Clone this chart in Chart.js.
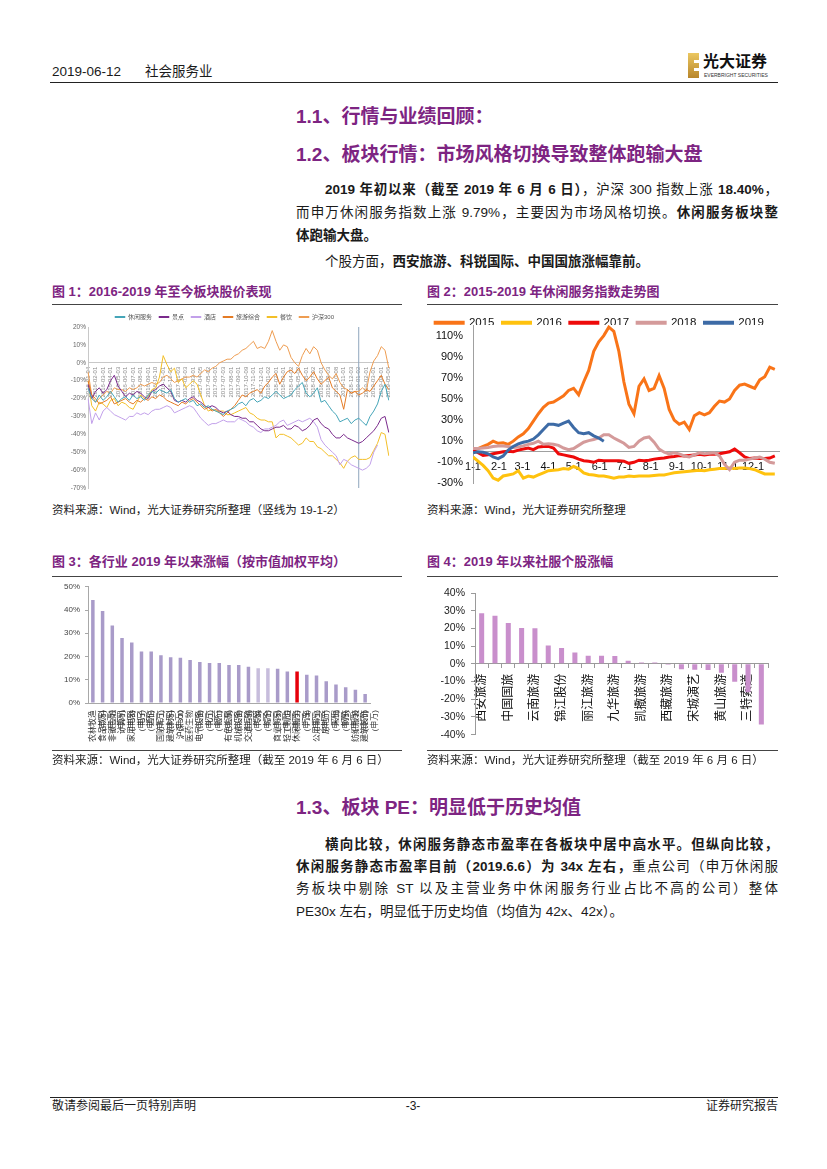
<!DOCTYPE html>
<html lang="zh-CN">
<head>
<meta charset="utf-8">
<title>社会服务业</title>
<script src="https://cdn.jsdelivr.net/npm/chart.js@4.4.1/dist/chart.umd.min.js"></script>
<style>
  html, body { margin: 0; padding: 0; background: #fff; }
  body { width: 827px; height: 1169px; position: relative; overflow: hidden;
         font-family: "Liberation Sans", "Noto Sans CJK SC", sans-serif; color: #1a1a1a; }
  .t { position: absolute; white-space: nowrap; line-height: 20px; }
  .j { text-align: justify; text-align-last: justify; }
  .p { font-size: 13.5px; }
  .h { font-size: 19px; font-weight: bold; color: #7d2482; line-height: 26px; }
  .fig { font-size: 13px; font-weight: bold; color: #7d2482; }
  .src { font-size: 11.5px; color: #222; }
  .rule { position: absolute; height: 0; border-top: 1.5px solid #444; }
  canvas { position: absolute; }
</style>
</head>
<body>

<div class="t" style="left:52px;top:62px;font-size:13.5px;">2019-06-12<span style="margin-left:24px">社会服务业</span></div>
<div style="position:absolute;left:688px;top:53px;width:11px;height:25px;background:linear-gradient(#ebc760,#b8862b)"></div>
<div style="position:absolute;left:694px;top:60px;width:5px;height:3px;background:#fff"></div>
<div style="position:absolute;left:694px;top:68px;width:5px;height:3px;background:#fff"></div>
<div class="t" style="left:703px;top:53px;font-size:16px;font-weight:bold;line-height:18px;color:#111">光大证券</div>
<div class="t" style="left:704px;top:72px;font-size:5px;line-height:6px;color:#333">EVERBRIGHT SECURITIES</div>
<div class="rule" style="left:50px;top:82px;width:728px;border-top:1.5px solid #222"></div>

<div class="t h" style="left:296px;top:104px">1.1、行情与业绩回顾：</div>
<div class="t h" style="left:296px;top:142px">1.2、板块行情：市场风格切换导致整体跑输大盘</div>

<div class="t p j" style="left:325px;top:180px;width:453px"><b>2019 年初以来（截至 2019 年 6 月 6 日）</b>，沪深 300 指数上涨 <b>18.40%</b>，</div>
<div class="t p j" style="left:296px;top:203px;width:482px">而申万休闲服务指数上涨 9.79%，主要因为市场风格切换。<b>休闲服务板块整</b></div>
<div class="t p" style="left:296px;top:226px"><b>体跑输大盘。</b></div>
<div class="t p" style="left:325px;top:252px">个股方面，<b>西安旅游、科锐国际、中国国旅涨幅靠前。</b></div>

<div class="t fig" style="left:52px;top:282px">图 1：2016-2019 年至今板块股价表现</div>
<div class="t fig" style="left:427px;top:282px">图 2：2015-2019 年休闲服务指数走势图</div>
<div class="rule" style="left:52px;top:304px;width:350px"></div>
<div class="rule" style="left:427px;top:304px;width:351px"></div>

<canvas id="c1" width="340" height="190" style="left:60px;top:305px"></canvas>
<canvas id="c2" width="365" height="195" style="left:420px;top:305px"></canvas>

<div class="t src" style="left:52px;top:500px">资料来源：Wind，光大证券研究所整理（竖线为 19-1-2）</div>
<div class="t src" style="left:427px;top:500px">资料来源：Wind，光大证券研究所整理</div>

<div class="t fig" style="left:52px;top:552px">图 3：各行业 2019 年以来涨幅（按市值加权平均）</div>
<div class="t fig" style="left:427px;top:552px">图 4：2019 年以来社服个股涨幅</div>
<div class="rule" style="left:52px;top:576px;width:350px"></div>
<div class="rule" style="left:427px;top:576px;width:351px"></div>

<canvas id="c3" width="370" height="177" style="left:40px;top:577px"></canvas>
<canvas id="c4" width="365" height="170" style="left:420px;top:577px"></canvas>

<div class="rule" style="left:52px;top:750px;width:350px;border-top-width:1px"></div>
<div class="rule" style="left:427px;top:750px;width:351px;border-top-width:1px"></div>
<div class="t src" style="left:52px;top:750px">资料来源：Wind，光大证券研究所整理（截至 2019 年 6 月 6 日）</div>
<div class="t src" style="left:427px;top:750px">资料来源：Wind，光大证券研究所整理（截至 2019 年 6 月 6 日）</div>

<div class="t h" style="left:296px;top:795px">1.3、板块 PE：明显低于历史均值</div>
<div class="t p j" style="left:325px;top:835px;width:453px"><b>横向比较，休闲服务静态市盈率在各板块中居中高水平。但纵向比较，</b></div>
<div class="t p j" style="left:296px;top:857px;width:482px"><b>休闲服务静态市盈率目前（2019.6.6）为 34x 左右，</b>重点公司（申万休闲服</div>
<div class="t p j" style="left:296px;top:879px;width:482px">务板块中剔除 ST 以及主营业务中休闲服务行业占比不高的公司）整体</div>
<div class="t p" style="left:296px;top:902px">PE30x 左右，明显低于历史均值（均值为 42x、42x）。</div>

<div class="rule" style="left:50px;top:1097px;width:728px;border-top:1.5px solid #222"></div>
<div class="t" style="left:52px;top:1096px;font-size:12px">敬请参阅最后一页特别声明</div>
<div class="t" style="left:400px;top:1096px;width:26px;text-align:center;font-size:12px">-3-</div>
<div class="t" style="left:700px;top:1096px;width:78px;text-align:right;font-size:12px">证券研究报告</div>

<script>
Chart.defaults.font.family = '"Liberation Sans", "Noto Sans CJK SC", sans-serif';
Chart.defaults.animation = false;
Chart.defaults.plugins.tooltip.enabled = false;

// legend keeps drawing normally but only reserves h px above the plot
function legendHeight(h) {
  return {
    id: 'legendHeight',
    beforeInit(chart) {
      const fit = chart.legend.fit;
      chart.legend.fit = function () { fit.call(this); this.height = h; };
    }
  };
}

// === 图1: 2016-2019 sector performance (semi-monthly readings) ===
const months1 = [
  '2016-01-04','2016-02-01','2016-03-01','2016-04-01','2016-05-03','2016-06-01','2016-07-01','2016-08-01','2016-09-01','2016-10-10','2016-11-01','2016-12-01',
  '2017-01-03','2017-02-03','2017-03-01','2017-04-05','2017-05-02','2017-06-01','2017-07-03','2017-08-01','2017-09-01','2017-10-09','2017-11-01','2017-12-01',
  '2018-01-02','2018-02-01','2018-03-01','2018-04-02','2018-05-02','2018-06-01','2018-07-02','2018-08-01','2018-09-03','2018-10-08','2018-11-01','2018-12-03',
  '2019-01-02','2019-02-01','2019-03-01','2019-04-01','2019-05-06'
];
const leisure = [
  -14,-20,-22,-18,-21,-19,-16,-19,-22,-20,
  -19,-21,-18,-20,-19,-21,-18,-16,-17,-15,
  -16,-17,-15,-20,-22,-21,-20,-22,-21,-24,
  -23,-25,-24,-26,-27,-28,-29,-27,-26,-25,
  -23,-22,-24,-21,-20,-22,-21,-19,-20,-18,
  -16,-18,-20,-19,-18,-15,-13,-11,-17,-19,
  -17,-14,-22,-21,-24,-27,-29,-33,-32,-31,
  -34,-32,-31,-33,-35,-30,-27,-23,-16,-12,
  -21
];
const scenic = [
  -12,-20,-16,-14,-17,-15,-10,-7,-13,-16,
  -19,-17,-18,-16,-17,-19,-20,-16,-15,-13,
  -12,-14,-16,-21,-22,-21,-22,-20,-19,-21,
  -22,-24,-25,-24,-25,-27,-28,-27,-29,-30,
  -30,-31,-31,-33,-33,-35,-37,-38,-38,-37,
  -36,-36,-35,-37,-37,-35,-36,-38,-37,-35,
  -32,-31,-34,-36,-37,-40,-42,-42,-40,-42,
  -43,-44,-45,-44,-42,-40,-38,-35,-31,-30,
  -39
];
const hotel = [
  -20,-34,-28,-32,-27,-25,-27,-29,-30,-31,
  -32,-30,-30,-28,-29,-28,-29,-27,-26,-26,
  -25,-24,-25,-28,-27,-26,-25,-24,-25,-28,
  -31,-33,-35,-34,-34,-33,-32,-33,-33,-33,
  -31,-32,-33,-35,-36,-38,-39,-37,-37,-36,
  -35,-33,-32,-35,-34,-33,-32,-33,-32,-31,
  -33,-36,-43,-46,-48,-50,-52,-57,-54,-55,
  -57,-58,-59,-60,-59,-57,-50,-46,null,null,
  null
];
const tourism = [
  -10,-18,-20,-23,-22,-21,-19,-23,-22,-21,
  -20,-22,-23,-21,-22,-20,-21,-19,-20,-18,
  -19,-21,-22,-23,-24,-22,-23,-21,-20,-22,
  -24,-26,-25,-27,-26,-28,-30,-28,-26,-24,
  -21,-18,-19,-17,-16,-15,-17,-13,-11,-8,
  -6,-12,-8,-5,-4,-6,-3,-7,-10,-8,
  -5,-9,-12,-10,-8,-14,-16,-18,-26,-15,
  -17,-16,-18,-17,-15,-16,-13,-10,-7,-12,
  -15
];
const catering = [
  -10,-24,-27,-22,-23,-25,-21,-20,-24,-22,
  -23,-25,-26,-22,-18,-20,-19,-15,-14,-8,
  4,-1,-5,-3,-11,-9,-14,-12,-10,-12,
  -18,-24,-27,-26,-27,-27,-27,-29,-29,-28,
  -27,-26,-25,-28,-29,-31,-32,-32,-33,-33,
  -42,-40,-40,-41,-42,-44,-46,-45,-42,-44,
  -44,-47,-48,-50,-52,-52,-54,-56,-59,-55,
  -53,-52,-54,-54,-54,-53,-49,-45,-39,-40,
  -52
];
const hs300 = [
  -5,-18,-22,-20,-18,-16,-17,-14,-15,-15,
  -16,-14,-15,-14,-12,-13,-12,-11,-12,-11,
  -8,-7,-9,-11,-10,-9,-8,-8,-7,-8,
  -6,-4,-5,-3,-2,0,1,2,2,4,
  5,7,8,10,12,8,9,8,12,18,
  12,7,10,9,3,0,-2,4,8,5,
  9,7,0,-4,-7,-9,-6,-11,-14,-15,
  -17,-16,-16,-14,-16,-5,1,4,9,7,
  -3
];
const markDate = '2019-01-02';

const labels1 = [];
months1.forEach((m, k) => { labels1.push(m); if (k < months1.length - 1) labels1.push(''); });

const series1 = [
  { label: '休闲服务', data: leisure, color: '#45a5b8' },
  { label: '景点', data: scenic, color: '#7a2a8c' },
  { label: '酒店', data: hotel, color: '#c2a0ea' },
  { label: '旅游综合', data: tourism, color: '#e47b25' },
  { label: '餐饮', data: catering, color: '#f3bf28' },
  { label: '沪深300', data: hs300, color: '#ee9d52' }
];

const markLine = {
  id: 'markLine',
  beforeDatasetsDraw(chart) {
    const x = chart.scales.x.getPixelForValue(labels1.indexOf(markDate));
    const { top, bottom } = chart.chartArea;
    const ctx = chart.ctx;
    ctx.save();
    ctx.strokeStyle = '#8fa6bd';
    ctx.lineWidth = 1;
    ctx.beginPath();
    ctx.moveTo(x, top);
    ctx.lineTo(x, bottom);
    ctx.stroke();
    ctx.restore();
  }
};

new Chart(document.getElementById('c1'), {
  type: 'line',
  data: {
    labels: labels1,
    datasets: series1.map(s => ({
      label: s.label, data: s.data, borderColor: s.color, backgroundColor: s.color,
      borderWidth: 1, pointRadius: 0
    }))
  },
  options: {
    responsive: false,
    layout: { padding: { top: 2, right: 11, bottom: 7, left: 0 } },
    plugins: {
      legend: { labels: { boxWidth: 10, boxHeight: 1, padding: 7, font: { size: 6 }, color: '#555' } }
    },
    scales: {
      x: {
        position: { y: 0 },
        grid: { display: false, drawTicks: false },
        border: { color: '#c8c8c8' },
        ticks: { autoSkip: false, minRotation: 90, maxRotation: 90, padding: 4, font: { size: 6 }, color: '#8a8a8a' }
      },
      y: {
        min: -70, max: 20,
        afterFit: s => { s.width = 28; },
        grid: { display: false, drawTicks: false },
        border: { color: '#c8c8c8' },
        ticks: { stepSize: 10, padding: 2, font: { size: 6.5 }, color: '#666', callback: v => v + '%' }
      }
    }
  },
  plugins: [legendHeight(20), markLine]
});

// === 图2: 休闲服务指数 by year (readings every 6 days from 1-1) ===
const monthDays = [0, 31, 59, 90, 120, 151, 181, 212, 243, 273, 304, 334];
const monthNames = ['1-1','2-1','3-1','4-1','5-1','6-1','7-1','8-1','9-1','10-1','11-1','12-1'];
const yTicks2 = [-30, -10, 10, 30, 50, 70, 90, 110];
const sampleStep = 6;
const y2015 = [2,3,5,7,10,8,8.5,7,10,14, 17,22,29,36,42,46,47,50,53,58, 60,54,66,77,95,104,110,118,114,95,
  66,45,36,62,69,58,60,72,60,40, 30,26,28,21,34,37,35,37,43,48, 47,50,58,63,64,62,60,68,71,80, 78];
const y2016 = [-5,-9,-13,-18,-25,-27,-23,-22,-21,-18, -25,-23,-24,-22,-20,-18,-17.5,-17,-16,-16.5,
  -14,-16,-20,-21.5,-22,-23,-23,-24,-25,-24, -24,-23,-23.5,-23,-23,-23,-22.5,-22,-22,-21,
  -20,-19.5,-19,-18.5,-18,-17.5,-18,-17,-16.5,-16, -16,-15.5,-16,-15.5,-15.5,-16,-17,-19,-21,-21, -21];
const y2017 = [1.5,-1,-3.5,-3,-2,-1,0,0.5,0,1.5, 2.5,3.5,2,4.5,5,5,3.5,-2,-3,-4,
  -5,-7,-8.5,-9,-10,-8,-8.5,-8.5,-8.5,-8.5, -9,-11,-10,-8,-8.5,-8,-7,-6.5,-6,-5,
  -4.5,-3.5,-4,-3.5,-3,-2.5,-3,-2.5,-2.5,-2, -1,0,2.5,-1,-5,-6.5,-6,-6.5,-6.5,-6, -4];
const y2018 = [3,3,3.5,4,5,5.5,5.5,5,4,4.5, 5.5,7,8,10,7,7.5,7,6,3.5,2,
  3,6,9,10.5,11.5,13,16,16,13,10.5, 8,4,5,10,13,14,9,2.5,-0.5,-2,
  -1,-2,-4,-5,-3,-1,-2,-1.5,-1,-4, -12,-17,-10,-8,-8,-7,-6,-5,-7,-10, -11];
const y2019 = [-1,0,-0.5,-2,-5,-6.5,-4,1.5,5,7.5, 9,10,12,16,21,26,26,25,27,29, 23,18,17,18,15,13,10];

const pts = arr => arr.map((v, k) => ({ x: k * sampleStep, y: v }));

// reversed so that 2019 is drawn on top; legend is flipped back
const years2 = [
  { label: '2019', data: y2019, color: '#3d6ba6' },
  { label: '2018', data: y2018, color: '#d49a9a' },
  { label: '2017', data: y2017, color: '#ee0a0a' },
  { label: '2016', data: y2016, color: '#ffc20e' },
  { label: '2015', data: y2015, color: '#f97418' }
];

new Chart(document.getElementById('c2'), {
  type: 'line',
  data: {
    datasets: years2.map(s => ({
      label: s.label, data: pts(s.data), borderColor: s.color, backgroundColor: s.color,
      borderWidth: 3, pointRadius: 0
    }))
  },
  options: {
    responsive: false,
    layout: { padding: { top: 4, right: 6, bottom: 9, left: 0 } },
    plugins: {
      legend: { reverse: true, labels: { boxWidth: 28, boxHeight: 1, padding: 8, font: { size: 11.5 }, color: '#111' } }
    },
    scales: {
      x: {
        type: 'linear', min: 0, max: 365,
        position: { y: 0 },
        afterBuildTicks: s => { s.ticks = monthDays.map(v => ({ value: v })); },
        grid: { display: false, drawTicks: false },
        border: { color: '#a0a0a0' },
        ticks: { padding: 9, autoSkip: false, maxRotation: 0, font: { size: 11 }, color: '#111',
                 callback: v => monthNames[monthDays.indexOf(v)] }
      },
      y: {
        min: -30, max: 120,
        afterBuildTicks: s => { s.ticks = yTicks2.map(v => ({ value: v })); },
        afterFit: s => { s.width = 53; },
        grid: { display: false, drawTicks: false },
        border: { color: '#a0a0a0' },
        ticks: { padding: 10, font: { size: 11 }, color: '#111', callback: v => v + '%' }
      }
    }
  },
  plugins: [legendHeight(16)]
});

// === 图3: 各行业 2019 年以来涨幅 ===
const names3 = ['农林牧渔','食品饮料','非银金融','计算机','家用电器','电子','通信','国防军工','建筑材料','沪深300',
  '医药生物','电气设备','化工','银行','有色金属','机械设备','交通运输','传媒','综合','商业贸易',
  '轻工制造','休闲服务','汽车','公用事业','房地产','采掘','钢铁','纺织服装','建筑装饰'];
const values3 = [44.3,39.6,33.3,28.0,26.0,22.2,22.2,20.6,19.7,19.5,
  18.5,17.6,17.2,17.2,16.4,16.4,15.6,15.0,15.0,14.7,
  13.6,13.6,12.2,11.8,9.4,8.0,6.8,5.7,3.9];
const highlight3 = '休闲服务';
const pale3 = ['传媒', '综合'];

new Chart(document.getElementById('c3'), {
  type: 'bar',
  data: {
    labels: names3.map(n => n === '沪深300' ? n : [n, '(申万)']),
    datasets: [{
      data: values3,
      backgroundColor: names3.map(n => n === highlight3 ? '#e6000b' : (pale3.includes(n) ? '#c7bddc' : '#a99bc9')),
      barPercentage: 0.4, categoryPercentage: 0.9
    }]
  },
  options: {
    responsive: false,
    layout: { padding: { top: 5, right: 40, bottom: 4, left: 0 } },
    plugins: { legend: { display: false } },
    scales: {
      x: {
        afterFit: s => { s.height = 47; },
        grid: { display: false, drawTicks: false },
        border: { color: '#a8a8a8' },
        ticks: { autoSkip: false, minRotation: 90, maxRotation: 90, padding: 7, font: { size: 8 }, color: '#333' }
      },
      y: {
        min: 0, max: 50,
        afterFit: s => { s.width = 48; },
        grid: { drawOnChartArea: false, tickLength: 3, color: '#a8a8a8' },
        border: { color: '#a8a8a8' },
        ticks: { stepSize: 5, padding: 5, font: { size: 8 }, color: '#444', callback: v => v + '%' }
      }
    }
  }
});

// === 图4: 社服个股涨幅 ===
const names4 = ['西安旅游','科锐国际','中国国旅','首旅酒店','云南旅游','全聚德','锦江股份','峨眉山A','丽江旅游','天目湖','九华旅游',
  '大连圣亚','凯撒旅游','众信旅游','西藏旅游','长白山','宋城演艺','桂林旅游','黄山旅游','腾邦国际','三特索道','国旅联合'];
const values4 = [28.5,27.1,23.0,20.3,20.1,10.3,9.0,6.4,4.6,4.6,4.4,
  1.7,0.7,0.7,-0.5,-3.1,-3.3,-3.5,-5.0,-10.1,-16.0,-34.3];

new Chart(document.getElementById('c4'), {
  type: 'bar',
  data: {
    labels: names4,
    datasets: [{ data: values4, backgroundColor: '#c98fcc', barPercentage: 0.42, categoryPercentage: 0.9 }]
  },
  options: {
    responsive: false,
    layout: { padding: { top: 16, right: 17, bottom: 9, left: 0 } },
    plugins: { legend: { display: false } },
    scales: {
      x: {
        position: { y: 0 }, z: 1,
        grid: { drawOnChartArea: false, tickLength: 4, color: '#9a9a9a' },
        border: { color: '#9a9a9a' },
        ticks: { autoSkip: false, minRotation: 90, maxRotation: 90, padding: 6, font: { size: 12 }, color: '#111',
                 callback: (v, i) => i % 2 === 0 ? names4[i] : '' }
      },
      y: {
        min: -40, max: 40,
        afterFit: s => { s.width = 55; },
        grid: { drawOnChartArea: false, tickLength: 4, color: '#9a9a9a' },
        border: { color: '#9a9a9a' },
        ticks: { stepSize: 10, padding: 6, font: { size: 10.5 }, color: '#222', callback: v => v + '%' }
      }
    }
  }
});
</script>
</body>
</html>
